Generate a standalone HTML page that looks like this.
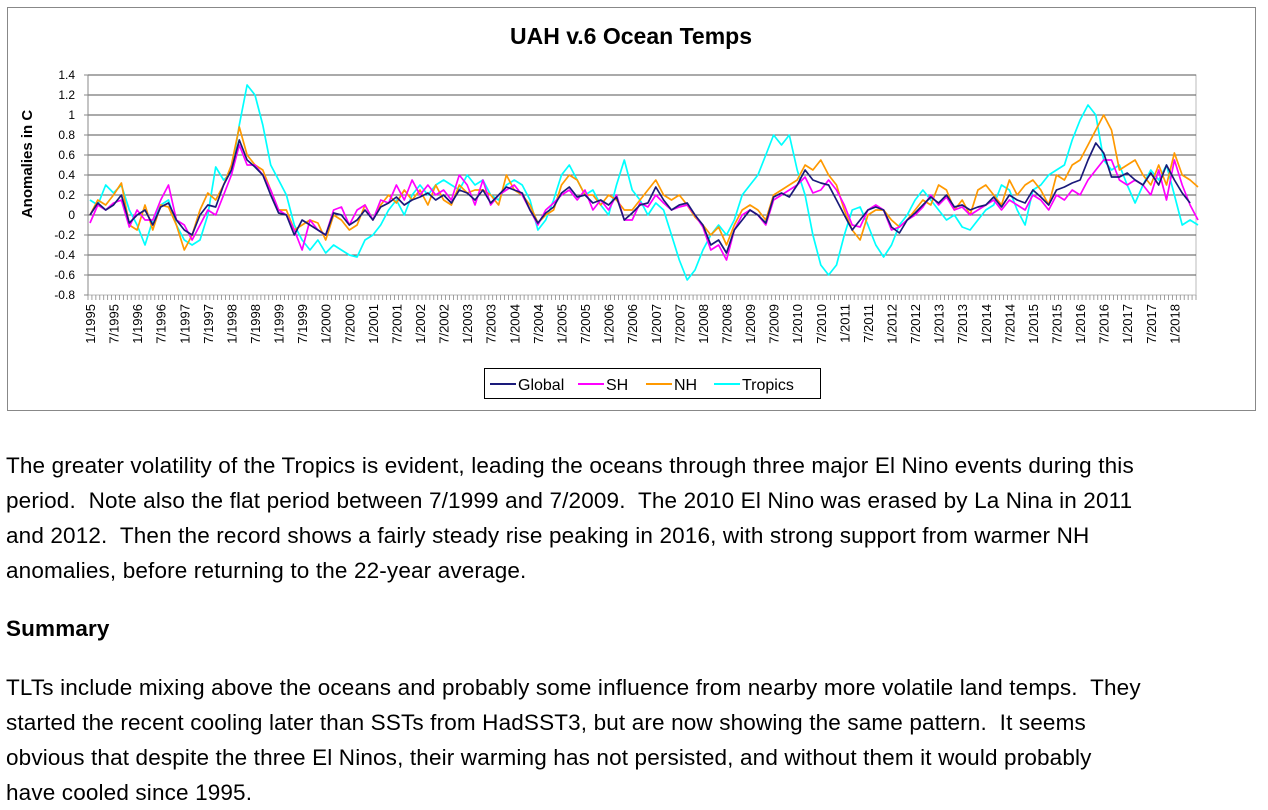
<!DOCTYPE html>
<html><head><meta charset="utf-8"><style>
body{margin:0;background:#fff;width:1268px;height:810px;overflow:hidden;font-family:"Liberation Sans",Arial,sans-serif}
#chart{position:absolute;left:0;top:0}
.p{position:absolute;left:6px;font-size:22.5px;letter-spacing:0.15px;line-height:35px;color:#000;margin:0;white-space:nowrap}
</style></head><body>
<svg id="chart" width="1268" height="420" font-family="Liberation Sans, Arial, sans-serif">
<rect x="7.5" y="7.5" width="1248" height="403" fill="#fff" stroke="#888"/>
<text x="631" y="44" text-anchor="middle" font-size="23" font-weight="bold">UAH v.6 Ocean Temps</text>
<text transform="translate(32,164) rotate(-90)" text-anchor="middle" font-size="15" font-weight="bold">Anomalies in C</text>
<g id="grid"></g><g id="series"></g><g id="xlab"></g>
<g>
<rect x="484.5" y="368.5" width="336" height="30" fill="#fff" stroke="#000"/>
<line x1="490" y1="384" x2="516" y2="384" stroke="#1a1a7a" stroke-width="2"/><text x="518" y="390" font-size="16">Global</text>
<line x1="578" y1="384" x2="604" y2="384" stroke="#ff00ff" stroke-width="2"/><text x="606" y="390" font-size="16">SH</text>
<line x1="646" y1="384" x2="672" y2="384" stroke="#ff9900" stroke-width="2"/><text x="674" y="390" font-size="16">NH</text>
<line x1="714" y1="384" x2="740" y2="384" stroke="#00ffff" stroke-width="2"/><text x="742" y="390" font-size="16">Tropics</text>
</g>
</svg>
<p class="p" style="top:448px">The greater volatility of the Tropics is evident, leading the oceans through three major El Nino events during this<br>period.&nbsp; Note also the flat period between 7/1999 and 7/2009.&nbsp; The 2010 El Nino was erased by La Nina in 2011<br>and 2012.&nbsp; Then the record shows a fairly steady rise peaking in 2016, with strong support from warmer NH<br>anomalies, before returning to the 22-year average.</p>
<p class="p" style="top:611px;font-weight:bold">Summary</p>
<p class="p" style="top:670px">TLTs include mixing above the oceans and probably some influence from nearby more volatile land temps.&nbsp; They<br>started the recent cooling later than SSTs from HadSST3, but are now showing the same pattern.&nbsp; It seems<br>obvious that despite the three El Ninos, their warming has not persisted, and without them it would probably<br>have cooled since 1995.</p>
<script>
const yTicks=[1.4,1.2,1,0.8,0.6,0.4,0.2,0,-0.2,-0.4,-0.6,-0.8];
const startYear=1995, nMonths=282, step=2;
const globalVals=[0.0,0.12,0.05,0.1,0.2,-0.08,0.0,0.05,-0.1,0.08,0.12,-0.05,-0.15,-0.2,0.0,0.1,0.08,0.3,0.45,0.75,0.55,0.48,0.4,0.2,0.02,0.0,-0.2,-0.05,-0.1,-0.15,-0.2,0.02,0.0,-0.1,-0.05,0.05,-0.05,0.08,0.12,0.18,0.1,0.15,0.18,0.22,0.15,0.2,0.12,0.25,0.22,0.15,0.25,0.12,0.2,0.28,0.25,0.22,0.05,-0.08,0.02,0.08,0.22,0.28,0.18,0.2,0.12,0.15,0.1,0.18,-0.05,0.02,0.1,0.12,0.28,0.15,0.05,0.1,0.12,0.0,-0.1,-0.3,-0.25,-0.38,-0.15,-0.05,0.05,0.0,-0.08,0.18,0.22,0.18,0.3,0.45,0.35,0.32,0.3,0.15,0.0,-0.15,-0.05,0.05,0.08,0.05,-0.12,-0.18,-0.05,0.02,0.1,0.18,0.12,0.2,0.08,0.1,0.05,0.08,0.1,0.18,0.08,0.2,0.15,0.12,0.25,0.18,0.1,0.25,0.28,0.32,0.35,0.55,0.72,0.62,0.38,0.38,0.42,0.35,0.3,0.42,0.3,0.5,0.35,0.22,0.12];
const shVals=[-0.08,0.1,0.05,0.12,0.15,-0.12,0.05,-0.05,-0.05,0.15,0.3,-0.05,-0.1,-0.25,-0.1,0.05,0.0,0.2,0.4,0.7,0.5,0.5,0.4,0.25,0.05,0.0,-0.15,-0.35,-0.05,-0.15,-0.2,0.05,0.08,-0.1,0.05,0.1,-0.05,0.15,0.12,0.3,0.15,0.35,0.2,0.3,0.2,0.25,0.15,0.4,0.3,0.1,0.35,0.1,0.2,0.25,0.3,0.2,0.05,-0.1,0.05,0.12,0.2,0.25,0.15,0.25,0.05,0.15,0.05,0.2,-0.05,-0.05,0.12,0.08,0.2,0.12,0.05,0.08,0.1,0.0,-0.12,-0.35,-0.3,-0.45,-0.15,0.0,0.05,0.0,-0.1,0.15,0.2,0.25,0.3,0.38,0.22,0.25,0.35,0.25,0.1,-0.1,-0.12,0.05,0.1,0.05,-0.15,-0.12,-0.05,0.0,0.08,0.2,0.1,0.18,0.05,0.08,0.0,0.05,0.1,0.15,0.05,0.15,0.1,0.05,0.2,0.15,0.05,0.2,0.15,0.25,0.2,0.35,0.45,0.55,0.55,0.35,0.3,0.35,0.3,0.2,0.45,0.15,0.55,0.3,0.1,-0.05];
const nhVals=[0.0,0.15,0.1,0.2,0.32,-0.1,-0.15,0.1,-0.15,0.1,0.08,-0.1,-0.35,-0.2,0.05,0.22,0.15,0.3,0.5,0.88,0.6,0.5,0.45,0.25,0.05,0.05,-0.15,-0.1,-0.05,-0.08,-0.25,0.0,-0.05,-0.15,-0.1,0.1,-0.05,0.1,0.2,0.12,0.25,0.15,0.25,0.1,0.3,0.15,0.1,0.3,0.22,0.25,0.25,0.2,0.1,0.4,0.25,0.2,0.1,-0.08,0.0,0.05,0.3,0.4,0.35,0.2,0.2,0.1,0.2,0.15,0.05,0.05,0.15,0.25,0.35,0.2,0.15,0.2,0.1,-0.02,-0.1,-0.2,-0.12,-0.3,-0.1,0.05,0.1,0.05,-0.05,0.2,0.25,0.3,0.35,0.5,0.45,0.55,0.4,0.3,0.05,-0.15,-0.25,0.0,0.05,0.05,-0.05,-0.12,-0.05,0.05,0.15,0.1,0.3,0.25,0.05,0.15,0.0,0.25,0.3,0.2,0.1,0.35,0.2,0.3,0.35,0.25,0.1,0.4,0.35,0.5,0.55,0.7,0.85,1.0,0.85,0.45,0.5,0.55,0.4,0.3,0.5,0.3,0.62,0.4,0.35,0.28];
const tropicsVals=[0.15,0.1,0.3,0.22,0.3,0.05,-0.1,-0.3,-0.05,0.1,0.15,-0.1,-0.25,-0.3,-0.25,0.0,0.48,0.35,0.42,0.9,1.3,1.2,0.9,0.5,0.35,0.2,-0.1,-0.25,-0.35,-0.25,-0.38,-0.3,-0.35,-0.4,-0.42,-0.25,-0.2,-0.1,0.05,0.15,0.0,0.2,0.3,0.2,0.3,0.35,0.3,0.25,0.4,0.3,0.35,0.2,0.15,0.3,0.35,0.3,0.15,-0.15,-0.05,0.15,0.4,0.5,0.35,0.2,0.25,0.1,0.0,0.3,0.55,0.25,0.15,0.0,0.12,0.05,-0.2,-0.45,-0.65,-0.55,-0.35,-0.2,-0.1,-0.2,-0.05,0.2,0.3,0.4,0.6,0.8,0.7,0.8,0.45,0.2,-0.2,-0.5,-0.6,-0.5,-0.2,0.05,0.08,-0.1,-0.3,-0.42,-0.3,-0.1,0.0,0.15,0.25,0.15,0.05,-0.05,0.0,-0.12,-0.15,-0.05,0.05,0.1,0.3,0.25,0.05,-0.1,0.25,0.3,0.4,0.45,0.5,0.75,0.95,1.1,1.0,0.55,0.45,0.5,0.3,0.12,0.3,0.45,0.35,0.5,0.2,-0.1,-0.05,-0.1];
const NS='http://www.w3.org/2000/svg';
const L=88,R=1196,T=75,B=295,yMin=-0.8,yMax=1.4;
const cw=(R-L)/nMonths;
const xm=m=>L+cw*(m+0.5);
const yv=v=>B-(v-yMin)/(yMax-yMin)*(B-T);
function mk(tag,attrs,parent){const e=document.createElementNS(NS,tag);for(const k in attrs)e.setAttribute(k,attrs[k]);parent.appendChild(e);return e;}
const grid=document.getElementById('grid');
const pa=mk('rect',{x:L,y:T,width:R-L,height:B-T,fill:'#fff',stroke:'#bbb'},grid);


yTicks.forEach(v=>{
  const y=yv(v);
  if(v>yMin){const g=mk('line',{x1:L,x2:R,y1:y,y2:y,stroke:'#555','stroke-width':1},grid);
  
  }
  const t=mk('text',{x:L-13,y:y+4,'text-anchor':'end','font-size':12},grid);t.textContent=(Math.round(v*10)/10).toString();
  
  
  mk('line',{x1:L-4,x2:L,y1:y,y2:y,stroke:'#888'},grid);
});
mk('line',{x1:L,x2:L,y1:T,y2:B,stroke:'#888'},grid);
for(let m=0;m<=nMonths;m++){const x=L+cw*m;mk('line',{x1:x,x2:x,y1:B,y2:B+5,stroke:'#888','stroke-width':0.8},grid);}
const xl=document.getElementById('xlab');
for(let m=0;m<nMonths;m+=6){
  const lbl=(m%12===0?'1':'7')+'/'+(startYear+Math.floor(m/12));
  const x=xm(m)+5;
  const t=mk('text',{transform:`translate(${x},${B+9}) rotate(-90)`,'text-anchor':'end','font-size':13},xl);
  t.textContent=lbl;
  
  
}
const sg=document.getElementById('series');
function draw(vals,color,name){
  const pts=vals.map((v,i)=>xm(i*step).toFixed(1)+','+yv(v).toFixed(1)).join(' ');
  const p=mk('polyline',{points:pts,fill:'none',stroke:color,'stroke-width':1.7,'stroke-linejoin':'round'},sg);
  
  
}
draw(tropicsVals,'#00ffff','tropics-line');
draw(nhVals,'#ff9900','nh-line');
draw(shVals,'#ff00ff','sh-line');
draw(globalVals,'#1a1a7a','global-line');
</script>
</body></html>
